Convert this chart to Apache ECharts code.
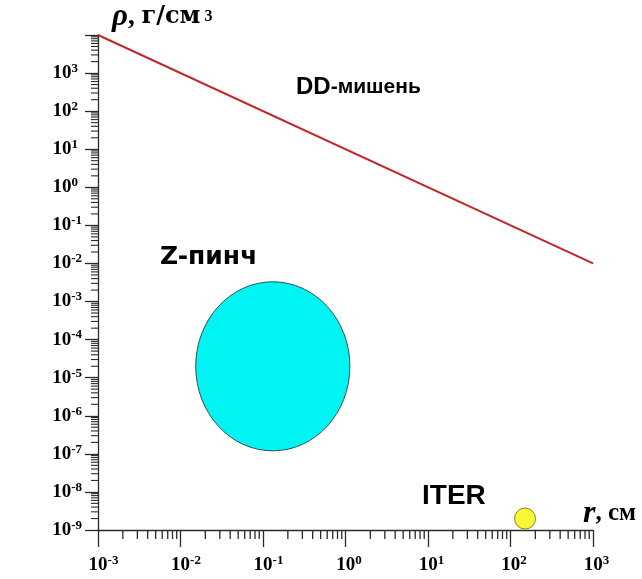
<!DOCTYPE html>
<html>
<head>
<meta charset="utf-8">
<script src="https://cdn.jsdelivr.net/npm/echarts@6/dist/echarts.min.js"></script>
<style>
  html, body { margin: 0; padding: 0; background: #fff; }
  #chart { width: 642px; height: 579px; }
</style>
</head>
<body>
<div id="chart"></div>
<script>
// axis ranges
const rRange = [1e-3, 1e3];     // r, cm
const rhoRange = [1e-9, 1e4];   // rho, g/cm^3

// DD-target line
const ddR = [1e-3, 1e3];
const ddRho = [1e4, 1e-2];

// Z-pinch region: rMin, rMax, rhoMin, rhoMax
const zPinch = [0.0153, 1.13, 1.2e-7, 3.3e-3];

// ITER point
const iterR = [150];
const iterRho = [2.0e-9];

const axisColor = "#2a2a2a";
const serif = "'Liberation Serif', 'Times New Roman', serif";
const sans = "'Liberation Sans', Arial, sans-serif";

// minor ticks 2..9 inside each decade
function minorValues(lo, hi) {
  let out = [];
  for (let k = Math.round(Math.log10(lo)); k < Math.round(Math.log10(hi)); k++) {
    for (let m = 2; m <= 9; m++) out.push(m * Math.pow(10, k));
  }
  return out;
}

function exp10(v) {
  return Math.round(Math.log10(v));
}

const tickRich = {
  pn: { width: 11, fontSize: 13 },
  pp: { width: 7, fontSize: 13 },
  q: { width: 4, fontSize: 13 },
  b: { fontFamily: serif, fontWeight: "bold", fontSize: 19, lineHeight: 22, color: "#000" },
  s: { fontFamily: serif, fontWeight: "bold", fontSize: 13, lineHeight: 13, verticalAlign: "top", color: "#000" }
};

let chart = echarts.init(document.getElementById("chart"));

let option = {
  backgroundColor: "#fff",
  animation: false,
  grid: {
    left: 98,
    right: 49,
    top: 35,
    bottom: 49,
    outerBoundsMode: "none"
  },
  xAxis: {
    type: "log",
    logBase: 10,
    min: rRange[0],
    max: rRange[1],
    interval: 1,
    name: "{i|r}{t|, см}",
    nameLocation: "end",
    nameGap: -10,
    nameTextStyle: {
      align: "left",
      verticalAlign: "bottom",
      padding: [0, 0, 0, 0],
      rich: {
        i: { fontFamily: serif, fontStyle: "italic", fontWeight: "bold", fontSize: 32, lineHeight: 32, color: "#000" },
        t: { fontFamily: serif, fontWeight: "bold", fontSize: 25, lineHeight: 32, color: "#000" }
      }
    },
    axisLine: { lineStyle: { color: axisColor, width: 1.3 } },
    axisTick: { length: 17, lineStyle: { color: axisColor, width: 1.3 } },
    splitLine: { show: false },
    axisLabel: {
      margin: 24,
      formatter: function (v) {
        let e = exp10(v);
        return (e < 0 ? "{pn| }" : "{pp| }") + "{b|10}{s|" + e + "}";
      },
      rich: tickRich
    }
  },
  yAxis: {
    type: "log",
    logBase: 10,
    min: rhoRange[0],
    max: rhoRange[1],
    interval: 1,
    name: "{i|ρ}{c|, }{t|г/см}{g| }{s|3}",
    nameLocation: "end",
    nameGap: 3,
    nameTextStyle: {
      align: "left",
      verticalAlign: "bottom",
      padding: [0, 0, 0, 14],
      rich: {
        i: { fontFamily: serif, fontStyle: "italic", fontWeight: "bold", fontSize: 31, lineHeight: 30, color: "#000" },
        c: { fontFamily: serif, fontWeight: "bold", fontSize: 27, lineHeight: 30, color: "#000" },
        t: { fontFamily: "'DejaVu Serif', serif", fontWeight: "bold", fontSize: 24, lineHeight: 30, color: "#000" },
        g: { width: 4, fontSize: 12 },
        s: { fontFamily: serif, fontWeight: "bold", fontSize: 16, lineHeight: 16, color: "#000" }
      }
    },
    axisLine: { lineStyle: { color: axisColor, width: 1.3 } },
    axisTick: { length: 13, lineStyle: { color: axisColor, width: 1.3 } },
    splitLine: { show: false },
    axisLabel: {
      margin: 16,
      formatter: function (v) {
        let e = exp10(v);
        if (e >= 4) return "";
        return "{b|10}{s|" + e + "}" + (e >= 0 ? "{q| }" : "");
      },
      rich: tickRich
    }
  },
  graphic: [
    {
      type: "text",
      x: 296,
      y: 87,
      style: {
        text: "{a|DD}{c|-мишень}",
        align: "left",
        verticalAlign: "middle",
        rich: {
          a: { fontFamily: sans, fontWeight: "bold", fontSize: 24, fill: "#000" },
          c: { fontFamily: sans, fontWeight: "bold", fontSize: 21, fill: "#000" }
        }
      }
    },
    {
      type: "text",
      x: 160,
      y: 257,
      style: {
        text: "Z-пинч",
        align: "left",
        verticalAlign: "middle",
        fontFamily: "'DejaVu Sans', sans-serif",
        fontWeight: "bold",
        fontSize: 25,
        fill: "#000"
      }
    },
    {
      type: "text",
      x: 422,
      y: 496,
      style: {
        text: "ITER",
        align: "left",
        verticalAlign: "middle",
        fontFamily: sans,
        fontWeight: "bold",
        fontSize: 28,
        fill: "#000"
      }
    }
  ],
  series: [
    {
      // minor ticks on r axis
      type: "custom",
      silent: true,
      clip: false,
      data: minorValues(rRange[0], rRange[1]).map(v => [v, rhoRange[0]]),
      renderItem: function (params, api) {
        let p = api.coord([api.value(0), api.value(1)]);
        return {
          type: "line",
          shape: { x1: p[0], y1: p[1], x2: p[0], y2: p[1] + 9 },
          style: { stroke: axisColor, lineWidth: 1.3 }
        };
      }
    },
    {
      // minor ticks on rho axis
      type: "custom",
      silent: true,
      clip: false,
      data: minorValues(rhoRange[0], rhoRange[1]).map(v => [rRange[0], v]),
      renderItem: function (params, api) {
        let p = api.coord([api.value(0), api.value(1)]);
        return {
          type: "line",
          shape: { x1: p[0] - 7, y1: p[1], x2: p[0], y2: p[1] },
          style: { stroke: axisColor, lineWidth: 1.1 }
        };
      }
    },
    {
      name: "Z-пинч",
      type: "custom",
      clip: false,
      encode: { x: [0, 1], y: [2, 3] },
      data: [zPinch],
      renderItem: function (params, api) {
        let a = api.coord([api.value(0), api.value(3)]);
        let b = api.coord([api.value(1), api.value(2)]);
        return {
          type: "ellipse",
          shape: {
            cx: (a[0] + b[0]) / 2,
            cy: (a[1] + b[1]) / 2,
            rx: Math.abs(b[0] - a[0]) / 2,
            ry: Math.abs(b[1] - a[1]) / 2
          },
          style: { fill: "#00f4f4", stroke: "#2b5454", lineWidth: 1 }
        };
      }
    },
    {
      name: "DD-мишень",
      type: "line",
      symbol: "none",
      data: ddR.map((r, i) => [r, ddRho[i]]),
      lineStyle: { color: "#c0282a", width: 2 }
    },
    {
      name: "ITER",
      type: "scatter",
      symbol: "circle",
      symbolSize: 21,
      data: iterR.map((r, i) => [r, iterRho[i]]),
      itemStyle: { color: "#f8f400", borderColor: "#6b6420", borderWidth: 1 }
    }
  ]
};

chart.setOption(option);
</script>
</body>
</html>
